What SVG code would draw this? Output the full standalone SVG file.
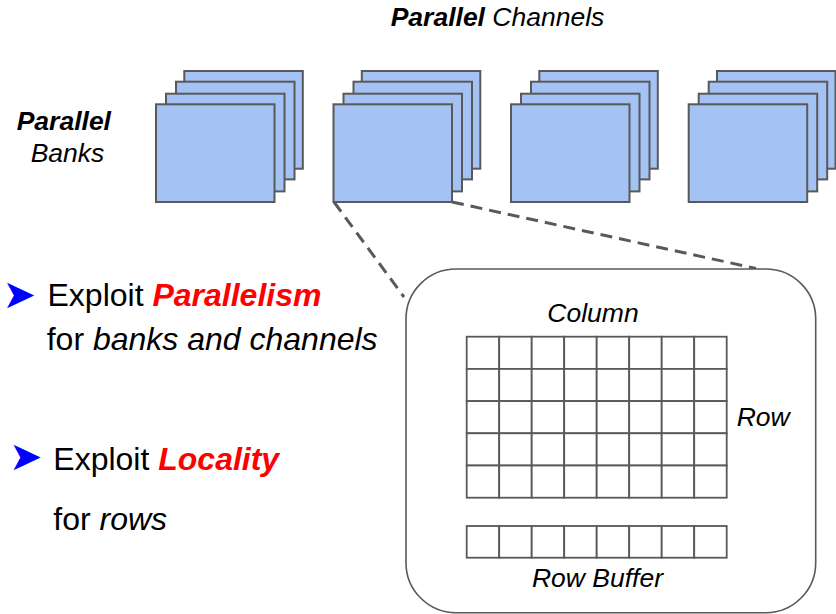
<svg xmlns="http://www.w3.org/2000/svg" width="836" height="614" viewBox="0 0 836 614">
  <style>
    text { font-family: "Liberation Sans", Arial, sans-serif; fill: #000; }
    .lbl { font-size: 26.5px; font-style: italic; }
    .b { font-weight: bold; }
    .body { font-size: 32px; }
    .em { font-style: italic; }
    .hot { fill: #ff0000; font-weight: bold; font-style: italic; }
    .bullet { font-family: "DejaVu Sans", sans-serif; font-size: 40px; fill: #0000ff; }
    .bank { fill: #a4c2f4; stroke: #595959; stroke-width: 2; }
    .cell { fill: #fff; stroke: #595959; stroke-width: 1.8; }
    .frame { fill: #fff; stroke: #595959; stroke-width: 1.6; }
    .zoomline { fill: none; stroke: #595959; stroke-width: 3; stroke-dasharray: 12 7; }
  </style>
  <defs>
    <!-- four banks stacked back-to-front -->
    <g id="bank-stack">
      <rect class="bank" x="28.3" y="-33.3" width="118.5" height="97.7"/>
      <rect class="bank" x="20" y="-22.6" width="118.5" height="97.7"/>
      <rect class="bank" x="10" y="-10.6" width="118.5" height="97.7"/>
      <rect class="bank" x="0" y="0" width="118.5" height="97.7"/>
    </g>
  </defs>

  <rect width="836" height="614" fill="#fff"/>

  <!-- headings -->
  <text class="lbl" x="390.7" y="26"><tspan class="b">Parallel</tspan> Channels</text>
  <text class="lbl" x="16.7" y="130"><tspan class="b">Parallel</tspan></text>
  <text class="lbl" x="30.7" y="161.5">Banks</text>

  <!-- channels -->
  <g id="channel-1"><use href="#bank-stack" x="156" y="104.3"/></g>
  <g id="channel-2"><use href="#bank-stack" x="333.5" y="104.3"/></g>
  <g id="channel-3"><use href="#bank-stack" x="511" y="104.3"/></g>
  <g id="channel-4"><use href="#bank-stack" x="688.7" y="104.3"/></g>

  <!-- zoom guides from channel 2 to the bank detail -->
  <g id="connectors">
    <line class="zoomline" x1="334" y1="202" x2="404" y2="297"/>
    <line class="zoomline" x1="452" y1="202" x2="756" y2="268.5"/>
  </g>

  <!-- bank detail: cell array and row buffer -->
  <g id="bank-detail">
    <rect class="frame" x="406" y="269" width="409.7" height="343.7" rx="50" ry="50"/>
    <g id="cell-array">
      <rect class="cell" x="466.7" y="336.7" width="32.5" height="32.2"/>
      <rect class="cell" x="499.2" y="336.7" width="32.5" height="32.2"/>
      <rect class="cell" x="531.7" y="336.7" width="32.5" height="32.2"/>
      <rect class="cell" x="564.2" y="336.7" width="32.5" height="32.2"/>
      <rect class="cell" x="596.7" y="336.7" width="32.5" height="32.2"/>
      <rect class="cell" x="629.2" y="336.7" width="32.5" height="32.2"/>
      <rect class="cell" x="661.7" y="336.7" width="32.5" height="32.2"/>
      <rect class="cell" x="694.2" y="336.7" width="32.5" height="32.2"/>
      <rect class="cell" x="466.7" y="368.9" width="32.5" height="32.2"/>
      <rect class="cell" x="499.2" y="368.9" width="32.5" height="32.2"/>
      <rect class="cell" x="531.7" y="368.9" width="32.5" height="32.2"/>
      <rect class="cell" x="564.2" y="368.9" width="32.5" height="32.2"/>
      <rect class="cell" x="596.7" y="368.9" width="32.5" height="32.2"/>
      <rect class="cell" x="629.2" y="368.9" width="32.5" height="32.2"/>
      <rect class="cell" x="661.7" y="368.9" width="32.5" height="32.2"/>
      <rect class="cell" x="694.2" y="368.9" width="32.5" height="32.2"/>
      <rect class="cell" x="466.7" y="401.1" width="32.5" height="32.2"/>
      <rect class="cell" x="499.2" y="401.1" width="32.5" height="32.2"/>
      <rect class="cell" x="531.7" y="401.1" width="32.5" height="32.2"/>
      <rect class="cell" x="564.2" y="401.1" width="32.5" height="32.2"/>
      <rect class="cell" x="596.7" y="401.1" width="32.5" height="32.2"/>
      <rect class="cell" x="629.2" y="401.1" width="32.5" height="32.2"/>
      <rect class="cell" x="661.7" y="401.1" width="32.5" height="32.2"/>
      <rect class="cell" x="694.2" y="401.1" width="32.5" height="32.2"/>
      <rect class="cell" x="466.7" y="433.3" width="32.5" height="32.2"/>
      <rect class="cell" x="499.2" y="433.3" width="32.5" height="32.2"/>
      <rect class="cell" x="531.7" y="433.3" width="32.5" height="32.2"/>
      <rect class="cell" x="564.2" y="433.3" width="32.5" height="32.2"/>
      <rect class="cell" x="596.7" y="433.3" width="32.5" height="32.2"/>
      <rect class="cell" x="629.2" y="433.3" width="32.5" height="32.2"/>
      <rect class="cell" x="661.7" y="433.3" width="32.5" height="32.2"/>
      <rect class="cell" x="694.2" y="433.3" width="32.5" height="32.2"/>
      <rect class="cell" x="466.7" y="465.5" width="32.5" height="32.2"/>
      <rect class="cell" x="499.2" y="465.5" width="32.5" height="32.2"/>
      <rect class="cell" x="531.7" y="465.5" width="32.5" height="32.2"/>
      <rect class="cell" x="564.2" y="465.5" width="32.5" height="32.2"/>
      <rect class="cell" x="596.7" y="465.5" width="32.5" height="32.2"/>
      <rect class="cell" x="629.2" y="465.5" width="32.5" height="32.2"/>
      <rect class="cell" x="661.7" y="465.5" width="32.5" height="32.2"/>
      <rect class="cell" x="694.2" y="465.5" width="32.5" height="32.2"/>
    </g>
    <g id="row-buffer">
      <rect class="cell" x="466.7" y="526" width="32.5" height="31.7"/>
      <rect class="cell" x="499.2" y="526" width="32.5" height="31.7"/>
      <rect class="cell" x="531.7" y="526" width="32.5" height="31.7"/>
      <rect class="cell" x="564.2" y="526" width="32.5" height="31.7"/>
      <rect class="cell" x="596.7" y="526" width="32.5" height="31.7"/>
      <rect class="cell" x="629.2" y="526" width="32.5" height="31.7"/>
      <rect class="cell" x="661.7" y="526" width="32.5" height="31.7"/>
      <rect class="cell" x="694.2" y="526" width="32.5" height="31.7"/>
    </g>
    <text class="lbl" x="593" y="321.7" text-anchor="middle">Column</text>
    <text class="lbl" x="736.7" y="425.7">Row</text>
    <text class="lbl" x="597.5" y="586.7" text-anchor="middle">Row Buffer</text>
  </g>

  <!-- take-aways -->
  <text class="bullet" x="2.6" y="308.3">➤</text>
  <text class="body" x="47.5" y="306">Exploit <tspan class="hot">Parallelism</tspan></text>
  <text class="body" x="46.7" y="350">for <tspan class="em">banks and channels</tspan></text>

  <text class="bullet" x="8.9" y="469.6">➤</text>
  <text class="body" x="53.3" y="470">Exploit <tspan class="hot">Locality</tspan></text>
  <text class="body" x="53.3" y="530">for <tspan class="em">rows</tspan></text>
</svg>
